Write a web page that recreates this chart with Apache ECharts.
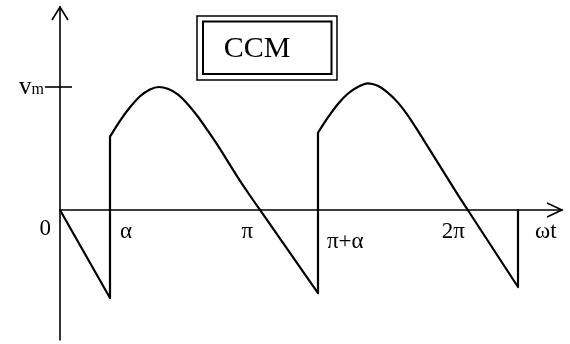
<!DOCTYPE html>
<html>
<head>
<meta charset="utf-8">
<script src="https://cdn.jsdelivr.net/npm/echarts@6/dist/echarts.min.js"></script>
<style>
  html, body { margin: 0; padding: 0; background: #fff; }
  #chart { width: 570px; height: 344px; }
</style>
</head>
<body>
<div id="chart"></div>
<script>
// Output voltage of a phase-controlled rectifier in continuous conduction.
// x: angle ωt in degrees (as sketched), y: voltage in units of v_m.

// falling part before the first firing instant, then the jump at α
const segStart = [[0, 0], [45, -0.715], [45, 0.596]];
// first conduction hump (α .. π)
const hump1 = [
  [45, 0.596], [54, 0.725], [63, 0.835], [72, 0.925], [81, 0.98], [89, 1.0],
  [97, 0.985], [106, 0.94], [115, 0.86], [124, 0.76], [133, 0.645], [142, 0.525],
  [151, 0.395], [160, 0.265], [170, 0.13], [180, 0]
];
// negative tail up to π+α, then the jump
const segMid = [[180, 0], [232.2, -0.675], [232.2, 0.628]];
// second conduction hump (π+α .. 2π)
const hump2 = [
  [232.2, 0.628], [241, 0.75], [250, 0.86], [259, 0.945], [268, 1.0], [277, 1.03],
  [286, 1.01], [295, 0.955], [304, 0.875], [313, 0.77], [322, 0.645], [331, 0.515],
  [340, 0.385], [349, 0.255], [358, 0.125], [367, 0]
];
// negative tail after 2π, closed back to the axis
const segEnd = [[367, 0], [412.2, -0.626], [412.2, 0]];

// x-axis annotations and where they sit
const tickNames = ['0', 'α', 'π', 'π+α', '2π'];
const tickAt = [0, 45, 180, 232.2, 367];
const axisName = 'ωt';
const vmLevel = 1;

const pieces = [
  { data: segStart, smooth: false },
  { data: hump1, smooth: 0.3 },
  { data: segMid, smooth: false },
  { data: hump2, smooth: 0.3 },
  { data: segEnd, smooth: false }
];

// label placement for each tick name (offset from the axis point)
const tickLabelStyle = [
  { align: 'right', offset: [-9, 19] },
  { align: 'left', offset: [10, 22] },
  { align: 'right', offset: [-7, 22] },
  { align: 'left', offset: [9, 32] },
  { align: 'right', offset: [-3, 22] }
];

const serif = '"Liberation Serif", "DejaVu Serif", serif';
const chart = echarts.init(document.getElementById('chart'), null, { renderer: 'canvas' });

const series = pieces.map(p => ({
  type: 'line',
  data: p.data,
  smooth: p.smooth,
  showSymbol: false,
  animation: false,
  lineStyle: { color: '#000', width: 2.2, join: 'round', cap: 'round' },
  z: 3
}));

series.push({
  type: 'scatter',
  symbolSize: 0,
  animation: false,
  silent: true,
  itemStyle: { opacity: 1 },
  data: tickNames.map((name, i) => ({
    value: [tickAt[i], 0],
    name: name,
    label: {
      show: true,
      position: 'inside',
      formatter: '{b}',
      align: tickLabelStyle[i].align,
      verticalAlign: 'middle',
      offset: tickLabelStyle[i].offset,
      color: '#000',
      opacity: 1,
      fontFamily: serif,
      fontSize: 23
    }
  }))
});

chart.setOption({
  backgroundColor: '#fff',
  animation: false,
  grid: { left: 60, top: 7, width: 502, height: 333 },
  xAxis: {
    type: 'value',
    min: 0,
    max: 451.8,
    axisLine: { onZero: true, lineStyle: { color: '#000', width: 1.6 } },
    axisTick: { show: false },
    axisLabel: { show: false },
    splitLine: { show: false }
  },
  yAxis: {
    type: 'value',
    min: -1.057,
    max: 1.6504,
    axisLine: { onZero: true, lineStyle: { color: '#000', width: 1.6 } },
    axisTick: { show: false },
    axisLabel: {
      show: true,
      customValues: [vmLevel],
      margin: 16,
      formatter: () => '{v|v}{m|m}',
      rich: {
        v: { fontFamily: serif, fontSize: 25, color: '#000' },
        m: { fontFamily: serif, fontSize: 16, color: '#000', padding: [6, 0, 0, 0] }
      }
    },
    splitLine: { show: false }
  },
  series: series
});

// decorations: open arrowheads, the v_m cross tick, axis name and the CCM box
const origin = chart.convertToPixel({ gridIndex: 0 }, [0, 0]);
const yTop = chart.convertToPixel({ gridIndex: 0 }, [0, 1.6504]);
const xEnd = chart.convertToPixel({ gridIndex: 0 }, [451.8, 0]);
const vmPt = chart.convertToPixel({ gridIndex: 0 }, [0, vmLevel]);
const lineStyle = { stroke: '#000', lineWidth: 1.6, fill: null };

chart.setOption({
  graphic: [
    { type: 'polyline', shape: { points: [[yTop[0] - 8, yTop[1] + 13], [yTop[0], yTop[1]], [yTop[0] + 8, yTop[1] + 13]] }, style: lineStyle, silent: true },
    { type: 'polyline', shape: { points: [[xEnd[0] - 15, origin[1] - 7], [xEnd[0], origin[1]], [xEnd[0] - 15, origin[1] + 7]] }, style: lineStyle, silent: true },
    { type: 'line', shape: { x1: vmPt[0] - 15, y1: vmPt[1], x2: vmPt[0] + 12, y2: vmPt[1] }, style: { stroke: '#000', lineWidth: 1.6 }, silent: true },
    { type: 'text', x: xEnd[0] - 27, y: origin[1] + 22, style: { text: axisName, fill: '#000', font: '23px ' + serif, textAlign: 'left', textVerticalAlign: 'middle' }, silent: true },
    { type: 'rect', shape: { x: 197, y: 16, width: 140, height: 64 }, style: { stroke: '#000', lineWidth: 1.5, fill: '#fff' }, silent: true },
    { type: 'rect', shape: { x: 203, y: 21.5, width: 128.5, height: 52.5 }, style: { stroke: '#000', lineWidth: 2, fill: null }, silent: true },
    { type: 'text', x: 257, y: 49, style: { text: 'CCM', fill: '#000', font: '30px ' + serif, textAlign: 'center', textVerticalAlign: 'middle' }, silent: true }
  ]
});
</script>
</body>
</html>
